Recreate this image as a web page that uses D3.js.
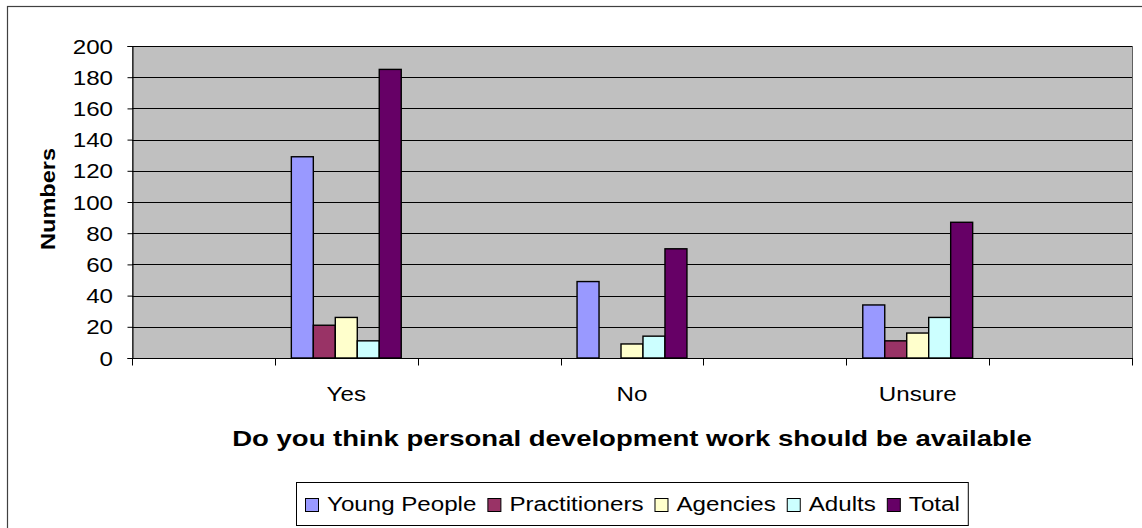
<!DOCTYPE html>
<html>
<head>
<meta charset="utf-8">
<script src="https://cdn.jsdelivr.net/npm/d3@7"></script>
<style>
  html, body { margin: 0; padding: 0; background: #fff; }
  svg { display: block; font-family: "Liberation Sans", Arial, sans-serif; }
</style>
</head>
<body>
<svg id="chart" width="1142" height="528"></svg>
<script>
// Category slots along the x axis (blank slots separate the answers)
const categories = ["", "Yes", "", "No", "", "Unsure", ""];
const seriesNames = ["Young People", "Practitioners", "Agencies", "Adults", "Total"];
const seriesColors = ["#9999FF", "#993366", "#FFFFCC", "#CCFFFF", "#660066"];
const youngPeople   = [null, 129, null, 49, null, 34, null];
const practitioners = [null, 21,  null, 0,  null, 11, null];
const agencies      = [null, 26,  null, 9,  null, 16, null];
const adults        = [null, 11,  null, 14, null, 26, null];
const total         = [null, 185, null, 70, null, 87, null];
const yTicks = [0, 20, 40, 60, 80, 100, 120, 140, 160, 180, 200];
const yTitle = "Numbers";
const xTitle = "Do you think personal development work should be available";

const seriesValues = [youngPeople, practitioners, agencies, adults, total];

const svg = d3.select("#chart");
const plot = { left: 132, right: 1132, top: 46, bottom: 358 };
const WIDEN = 1.15;   // horizontal widening of the chart's text

// Chart frame
svg.append("rect")
  .attr("x", 7.5).attr("y", 6.5)
  .attr("width", 1142).attr("height", 540)
  .attr("fill", "#fff").attr("stroke", "#404040").attr("stroke-width", 1.2);

const x0 = d3.scaleBand()
  .domain(d3.range(categories.length))
  .range([plot.left, plot.right])
  .paddingInner(0).paddingOuter(0);

const x1 = d3.scaleBand()
  .domain(d3.range(seriesNames.length))
  .range([0, x0.bandwidth()])
  .paddingInner(0).paddingOuter(0.75);

const y = d3.scaleLinear().domain([0, 200]).range([plot.bottom, plot.top]);

// Plot background
svg.append("rect")
  .attr("x", plot.left + 0.5).attr("y", plot.top + 0.5)
  .attr("width", plot.right - plot.left).attr("height", plot.bottom - plot.top)
  .attr("fill", "#C0C0C0").attr("stroke", "#606060");

// Horizontal gridlines
svg.append("g").selectAll("line")
  .data(yTicks.filter(d => d > 0))
  .join("line")
  .attr("x1", plot.left).attr("x2", plot.right)
  .attr("y1", d => Math.round(y(d)) + 0.5).attr("y2", d => Math.round(y(d)) + 0.5)
  .attr("stroke", "#000").attr("stroke-width", 1);

// Bars
const groups = svg.append("g").selectAll("g")
  .data(categories.map((c, i) => i))
  .join("g")
  .attr("transform", i => `translate(${x0(i)},0)`);

groups.selectAll("rect")
  .data(i => seriesValues.map((vals, s) => ({ s, v: vals[i] })).filter(d => d.v !== null && d.v > 0))
  .join("rect")
  .attr("x", d => x1(d.s))
  .attr("y", d => y(d.v))
  .attr("width", x1.bandwidth())
  .attr("height", d => y(0) - y(d.v))
  .attr("fill", d => seriesColors[d.s])
  .attr("stroke", "#000").attr("stroke-width", 1.4);

// Y axis: line and ticks from d3.axisLeft, labels placed with widening
const yAxis = d3.axisLeft(y).tickValues(yTicks).tickSize(5).tickFormat("");
const gy = svg.append("g").attr("transform", `translate(${plot.left + 0.5},0)`).call(yAxis);
gy.select(".domain").attr("stroke", "#000");
gy.selectAll(".tick line").attr("stroke", "#000");
svg.append("g").selectAll("text")
  .data(yTicks)
  .join("text")
  .attr("transform", d => `translate(113,${y(d)}) scale(${WIDEN},1)`)
  .attr("dy", "0.36em")
  .attr("text-anchor", "end").attr("font-size", 21).attr("fill", "#000")
  .text(d => d);

// X axis: tick marks at slot boundaries, labels at slot centres
const gx = svg.append("g").attr("transform", `translate(0,${plot.bottom + 0.5})`);
gx.append("line").attr("x1", plot.left).attr("x2", plot.right + 1).attr("stroke", "#000");
const boundaries = d3.range(categories.length).map(i => x0(i)).concat([plot.right]);
gx.selectAll("line.tk").data(boundaries).join("line").attr("class", "tk")
  .attr("x1", d => Math.round(d) + 0.5).attr("x2", d => Math.round(d) + 0.5)
  .attr("y1", 0).attr("y2", 7).attr("stroke", "#000");
gx.selectAll("text").data(categories.map((c, i) => ({ c, i })).filter(d => d.c))
  .join("text")
  .attr("transform", d => `translate(${x0(d.i) + x0.bandwidth() / 2},42.5) scale(${WIDEN},1)`)
  .attr("text-anchor", "middle").attr("font-size", 21).attr("fill", "#000")
  .text(d => d.c);

// Axis titles
svg.append("text")
  .attr("transform", `translate(55,${(plot.top + plot.bottom) / 2 - 3}) rotate(-90) scale(1.12,1)`)
  .attr("text-anchor", "middle").attr("font-size", 21).attr("font-weight", "bold")
  .text(yTitle);
svg.append("text")
  .attr("transform", `translate(${(plot.left + plot.right) / 2},446) scale(1.28,1)`)
  .attr("text-anchor", "middle").attr("font-size", 21.5).attr("font-weight", "bold")
  .text(xTitle);

// Legend
const legend = svg.append("g");
const legendBox = legend.append("rect")
  .attr("y", 482.5).attr("height", 43)
  .attr("fill", "#fff").attr("stroke", "#000");
const items = legend.append("g");
let cursor = 0;
seriesNames.forEach((name, s) => {
  const it = items.append("g").attr("transform", `translate(${cursor},0)`);
  it.append("rect").attr("x", 0.5).attr("y", 498.5).attr("width", 13).attr("height", 13)
    .attr("fill", seriesColors[s]).attr("stroke", "#000");
  const t = it.append("text")
    .attr("transform", `translate(22,510.5) scale(${WIDEN},1)`)
    .attr("font-size", 21).text(name);
  cursor += 22 + t.node().getComputedTextLength() * WIDEN + 11;
});
const legendWidth = (cursor - 11) + 9 + 8;
const legendLeft = Math.round((plot.left + plot.right) / 2 - legendWidth / 2);
legendBox.attr("x", legendLeft + 0.5).attr("width", legendWidth);
items.attr("transform", `translate(${legendLeft + 9},0)`);
</script>
</body>
</html>
